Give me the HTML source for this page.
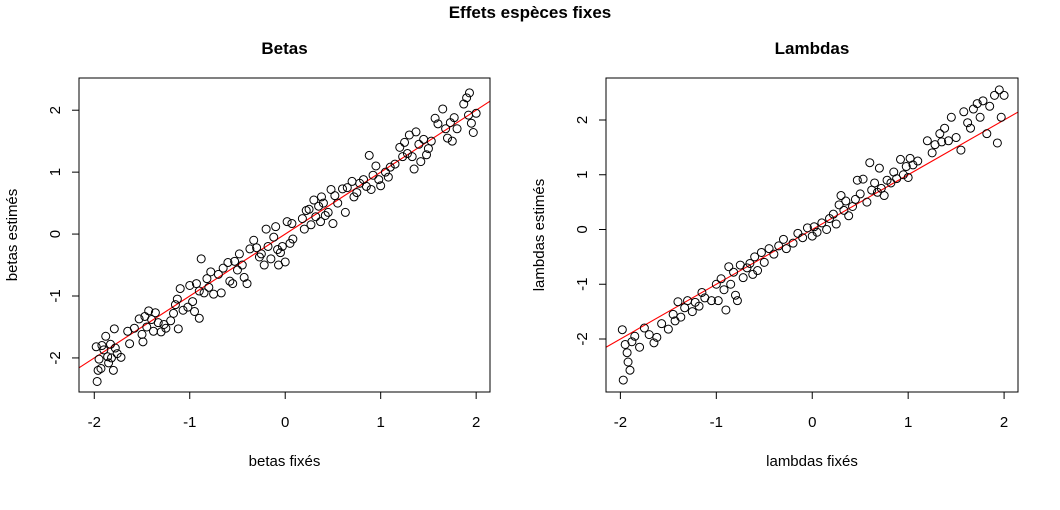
<!DOCTYPE html>
<html><head><meta charset="utf-8"><style>
html,body{margin:0;padding:0;background:#fff}
svg{display:block;font-family:"Liberation Sans",Arial,sans-serif}
</style></head><body>
<svg id="c" width="1060" height="510" viewBox="0 0 1060 510">
<text x="530" y="18" text-anchor="middle" font-size="17" font-weight="bold">Effets espèces fixes</text>
</svg>
<script>
const betaX=[-1.98,-1.97,-1.96,-1.95,-1.93,-1.92,-1.9,-1.88,-1.86,-1.85,-1.83,-1.82,-1.8,-1.79,-1.78,-1.76,-1.72,-1.65,-1.63,-1.58,-1.53,-1.5,-1.49,-1.47,-1.45,-1.43,-1.4,-1.38,-1.36,-1.33,-1.3,-1.27,-1.25,-1.2,-1.17,-1.15,-1.13,-1.12,-1.1,-1.07,-1.02,-1.0,-0.97,-0.95,-0.93,-0.9,-0.9,-0.88,-0.85,-0.82,-0.8,-0.78,-0.75,-0.7,-0.67,-0.65,-0.6,-0.58,-0.55,-0.53,-0.5,-0.48,-0.45,-0.43,-0.4,-0.37,-0.33,-0.3,-0.27,-0.25,-0.22,-0.2,-0.18,-0.15,-0.12,-0.1,-0.08,-0.07,-0.05,-0.03,0.0,0.02,0.05,0.07,0.08,0.18,0.2,0.22,0.25,0.27,0.3,0.32,0.35,0.37,0.38,0.4,0.42,0.45,0.48,0.5,0.52,0.55,0.6,0.63,0.65,0.7,0.72,0.75,0.78,0.82,0.85,0.88,0.9,0.92,0.95,0.98,1.0,1.05,1.08,1.1,1.15,1.2,1.23,1.25,1.28,1.3,1.33,1.35,1.37,1.4,1.42,1.45,1.48,1.5,1.53,1.57,1.6,1.65,1.68,1.7,1.73,1.75,1.77,1.8,1.87,1.9,1.92,1.93,1.95,1.97,2.0];
const betaY=[-1.82,-2.38,-2.2,-2.02,-2.17,-1.8,-1.87,-1.65,-1.98,-2.08,-1.78,-2.0,-2.2,-1.53,-1.84,-1.93,-1.99,-1.57,-1.77,-1.52,-1.37,-1.62,-1.74,-1.33,-1.5,-1.24,-1.38,-1.57,-1.27,-1.43,-1.58,-1.46,-1.52,-1.4,-1.28,-1.14,-1.05,-1.53,-0.88,-1.23,-1.18,-0.83,-1.09,-1.25,-0.8,-1.36,-0.92,-0.4,-0.95,-0.72,-0.86,-0.61,-0.97,-0.65,-0.95,-0.55,-0.46,-0.76,-0.8,-0.44,-0.58,-0.32,-0.5,-0.7,-0.8,-0.24,-0.1,-0.22,-0.37,-0.32,-0.5,0.08,-0.2,-0.4,-0.05,0.12,-0.25,-0.5,-0.3,-0.2,-0.45,0.2,-0.15,0.17,-0.08,0.25,0.08,0.38,0.4,0.15,0.55,0.28,0.45,0.2,0.6,0.5,0.3,0.35,0.72,0.17,0.62,0.5,0.73,0.35,0.75,0.85,0.6,0.67,0.82,0.88,0.77,1.27,0.72,0.95,1.1,0.88,0.78,1.0,0.92,1.08,1.13,1.4,1.25,1.48,1.3,1.6,1.25,1.05,1.65,1.45,1.17,1.53,1.28,1.38,1.5,1.87,1.78,2.02,1.7,1.55,1.8,1.5,1.88,1.7,2.1,2.2,1.92,2.28,1.79,1.64,1.95];
const lamX=[-1.98,-1.97,-1.95,-1.93,-1.92,-1.9,-1.88,-1.85,-1.8,-1.75,-1.7,-1.65,-1.62,-1.57,-1.5,-1.45,-1.43,-1.4,-1.37,-1.33,-1.3,-1.25,-1.22,-1.18,-1.15,-1.12,-1.05,-1.0,-0.98,-0.95,-0.92,-0.9,-0.87,-0.85,-0.82,-0.8,-0.78,-0.75,-0.72,-0.68,-0.65,-0.62,-0.6,-0.57,-0.53,-0.5,-0.45,-0.4,-0.35,-0.3,-0.27,-0.2,-0.15,-0.1,-0.05,0.0,0.02,0.05,0.1,0.15,0.18,0.22,0.25,0.28,0.3,0.33,0.35,0.38,0.42,0.45,0.47,0.5,0.53,0.57,0.6,0.62,0.65,0.68,0.7,0.72,0.75,0.78,0.82,0.85,0.88,0.92,0.95,0.98,1.0,1.02,1.05,1.1,1.2,1.25,1.28,1.33,1.35,1.38,1.42,1.45,1.5,1.55,1.58,1.62,1.65,1.68,1.72,1.75,1.78,1.82,1.85,1.9,1.93,1.95,1.97,2.0];
const lamY=[-1.83,-2.75,-2.1,-2.25,-2.42,-2.57,-2.05,-1.95,-2.15,-1.8,-1.92,-2.07,-1.97,-1.72,-1.82,-1.55,-1.67,-1.32,-1.6,-1.43,-1.3,-1.5,-1.33,-1.4,-1.15,-1.25,-1.3,-1.0,-1.3,-0.9,-1.1,-1.47,-0.68,-1.0,-0.78,-1.2,-1.3,-0.65,-0.88,-0.7,-0.62,-0.82,-0.5,-0.75,-0.42,-0.6,-0.35,-0.45,-0.3,-0.18,-0.35,-0.25,-0.07,-0.15,0.03,-0.12,0.05,-0.05,0.12,0.0,0.2,0.28,0.1,0.45,0.62,0.35,0.52,0.25,0.42,0.55,0.9,0.65,0.92,0.5,1.22,0.72,0.85,0.68,1.12,0.75,0.62,0.9,0.85,1.05,0.93,1.28,1.0,1.15,0.95,1.3,1.18,1.25,1.62,1.4,1.55,1.75,1.6,1.85,1.62,2.05,1.68,1.45,2.15,1.95,1.85,2.2,2.3,2.05,2.35,1.75,2.25,2.45,1.58,2.55,2.05,2.45];
const ticks=[-2,-1,0,1,2];
const NS="http://www.w3.org/2000/svg";
const svg=document.getElementById('c');
function mk(tag,attrs,parent){const e=document.createElementNS(NS,tag);for(const k in attrs)e.setAttribute(k,attrs[k]);(parent||svg).appendChild(e);return e;}
function panel(o){
  const g=mk('g',{});
  
  
  const sx=v=>o.x0+(v-o.xmin)*(o.x1-o.x0)/(o.xmax-o.xmin);
  const sy=v=>o.y1-(v-o.ymin)*(o.y1-o.y0)/(o.ymax-o.ymin);
  const line=mk('line',{x1:o.x0,x2:o.x1,y1:sy(o.xmin),y2:sy(o.xmax),stroke:'#ff0000','stroke-width':1.1},g);
  
  
  for(let i=0;i<o.xs.length;i++){
    const c=mk('circle',{cx:sx(o.xs[i]),cy:sy(o.ys[i]),r:4,fill:'none',stroke:'#000','stroke-width':1},g);
    
    
  }
  const box=mk('rect',{x:o.x0,y:o.y0,width:o.x1-o.x0,height:o.y1-o.y0,fill:'none',stroke:'#000','stroke-width':1},g);
  
  
  mk('line',{x1:sx(-2),x2:sx(2),y1:o.y1,y2:o.y1,stroke:'#000'},g);
  mk('line',{x1:o.x0,x2:o.x0,y1:sy(-2),y2:sy(2),stroke:'#000'},g);
  ticks.forEach(t=>{
    mk('line',{x1:sx(t),x2:sx(t),y1:o.y1,y2:o.y1+7,stroke:'#000'},g);
    const tx=mk('text',{x:sx(t),y:o.y1+35,'text-anchor':'middle','font-size':15},g);
    tx.textContent=t;
    
    
    mk('line',{x1:o.x0,x2:o.x0-7,y1:sy(t),y2:sy(t),stroke:'#000'},g);
    const ty=mk('text',{x:o.x0-19,y:sy(t),'text-anchor':'middle','font-size':15,transform:`rotate(-90 ${o.x0-19} ${sy(t)})`},g);
    ty.textContent=t;
    
    
  });
  const tt=mk('text',{x:(o.x0+o.x1)/2,y:54,'text-anchor':'middle','font-size':17,'font-weight':'bold'},g);
  tt.textContent=o.title;
  
  
  const xl=mk('text',{x:(o.x0+o.x1)/2,y:466,'text-anchor':'middle','font-size':15},g);
  xl.textContent=o.xlab;
  
  
  const yx=o.x0-62,yy=(o.y0+o.y1)/2;
  const yl=mk('text',{x:yx,y:yy,'text-anchor':'middle','font-size':15,transform:`rotate(-90 ${yx} ${yy})`},g);
  yl.textContent=o.ylab;
  
  
}
panel({name:'betas',xs:betaX,ys:betaY,x0:79,x1:490,y0:78,y1:392,xmin:-2.16,xmax:2.145,ymin:-2.55,ymax:2.52,title:'Betas',xlab:'betas fixés',ylab:'betas estimés'});
panel({name:'lambdas',xs:lamX,ys:lamY,x0:606,x1:1018,y0:78,y1:392,xmin:-2.15,xmax:2.145,ymin:-2.968,ymax:2.767,title:'Lambdas',xlab:'lambdas fixés',ylab:'lambdas estimés'});
</script>
</body></html>
